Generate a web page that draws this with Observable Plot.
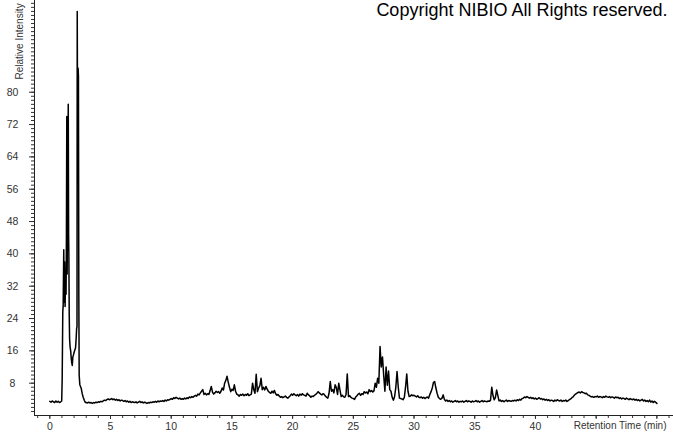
<!DOCTYPE html>
<html>
<head>
<meta charset="utf-8">
<script src="https://cdn.jsdelivr.net/npm/d3@7"></script>
<script src="https://cdn.jsdelivr.net/npm/@observablehq/plot@0.6"></script>
<style>
  html, body { margin: 0; padding: 0; background: #fff; }
  #chart { width: 673px; height: 433px; }
</style>
</head>
<body>
<div id="chart"></div>
<script>
// ---- data ----
const titleText = "Copyright NIBIO All Rights reserved.";
const xAxisTitle = "Retention Time (min)";
const yAxisTitle = "Relative Intensity";

const xTickLabels = [0, 5, 10, 15, 20, 25, 30, 35, 40];
const xMajorTicks = [0, 5, 10, 15, 20, 25, 30, 35, 40, 45, 50];
const yTickLabels = [8, 16, 24, 32, 40, 48, 56, 64, 72, 80];

// early part (irregular sampling around the large solvent peaks), minutes / % intensity
const earlyTime = [0.0, 0.1, 0.2, 0.3, 0.4, 0.5, 0.6, 0.7, 0.8, 0.9, 0.98, 1.02, 1.07, 1.1, 1.15, 1.18, 1.22, 1.26, 1.3, 1.34, 1.37, 1.4, 1.43, 1.46, 1.52, 1.55, 1.57, 1.6, 1.63, 1.67, 1.72, 1.77, 1.81, 1.85, 1.9, 1.95, 2.0, 2.06, 2.12, 2.17, 2.21, 2.24, 2.26, 2.3, 2.33, 2.36, 2.39, 2.42, 2.47, 2.53, 2.59, 2.67, 2.75, 2.85, 2.94];
const earlyIntensity = [3.5, 3.3, 3.6, 3.4, 3.2, 3.6, 3.3, 3.5, 3.2, 3.4, 3.6, 9.0, 25.7, 27.0, 41.0, 28.0, 38.0, 27.0, 35.0, 30.0, 45.0, 74.0, 35.0, 50.0, 77.0, 45.0, 40.0, 25.0, 19.0, 17.0, 16.0, 14.0, 13.0, 12.4, 14.5, 15.0, 15.6, 16.2, 16.7, 19.0, 21.5, 22.0, 100.0, 60.0, 86.0, 84.0, 30.0, 10.0, 7.7, 7.2, 6.7, 5.4, 4.5, 3.7, 3.2];

// main part: sampled every 0.1 min from 3.0 to 50.0 min
const mainStart = 3.0;
const mainStep = 0.1;
const mainIntensity = [
  3.2,3.1,3.3,3.1,3.2,3.0,3.2,3.1,3.3,3.2,   // 3
  3.4,3.3,3.5,3.4,3.6,3.8,3.7,3.9,4.1,3.9,   // 4
  4.0,4.2,3.9,4.1,3.8,4.0,3.7,3.9,3.6,3.8,   // 5
  3.7,3.5,3.7,3.4,3.6,3.3,3.5,3.2,3.4,3.3,   // 6
  3.2,3.4,3.1,3.3,3.5,3.2,3.4,3.1,3.3,3.2,   // 7
  3.0,3.2,3.1,3.3,3.2,3.4,3.3,3.5,3.3,3.6,   // 8
  3.4,3.6,3.5,3.7,3.5,3.8,3.6,3.9,3.8,4.0,   // 9
  4.2,4.0,4.4,4.2,4.5,4.3,4.1,4.3,4.0,4.2,   // 10
  4.0,4.3,4.1,4.4,4.2,4.6,4.4,4.7,4.5,4.8,   // 11
  5.0,4.8,5.3,5.1,5.6,6.0,6.4,5.2,5.5,5.1,   // 12
  5.4,5.2,6.1,7.2,5.8,5.3,5.6,6.0,5.7,5.9,   // 13
  5.5,6.0,6.8,6.3,8.0,8.7,9.7,8.2,7.0,5.9,   // 14
  6.5,6.2,7.6,6.0,5.3,5.1,4.8,5.2,5.0,5.3,   // 15
  4.9,5.2,5.0,5.4,4.9,5.1,5.3,8.0,6.4,5.5,   // 16
  10.2,5.9,6.8,7.4,9.2,6.4,7.0,6.3,7.2,6.5,  // 17
  6.0,5.7,5.5,6.0,5.6,6.2,5.4,5.0,5.2,4.8,   // 18
  4.5,4.7,4.4,4.6,4.8,4.5,4.3,4.6,4.9,5.3,   // 19
  5.0,5.4,5.1,4.9,5.2,4.8,5.3,5.0,5.4,5.1,   // 20
  5.0,4.8,5.5,5.1,4.9,4.5,4.8,4.7,5.0,5.2,   // 21
  5.5,5.9,5.6,5.3,5.1,5.4,5.2,4.8,4.5,4.3,   // 22
  5.5,8.4,6.0,6.4,5.6,7.6,6.9,5.2,8.0,6.3,   // 23
  4.7,5.0,4.6,4.5,5.2,10.3,4.7,4.9,4.5,4.3,  // 24
  4.2,4.0,4.6,4.9,5.3,5.5,5.0,5.4,5.2,5.9,   // 25
  5.6,5.8,5.4,6.4,5.9,6.2,5.8,6.1,8.0,7.0,   // 26
  9.2,8.0,17.1,12.0,14.5,10.0,6.0,12.0,7.5,11.0, // 27
  6.4,6.0,4.5,3.8,4.7,7.0,10.9,7.0,4.3,4.2,  // 28
  4.1,3.9,4.5,7.0,10.3,6.0,4.7,4.8,5.1,4.9,  // 29
  5.0,4.8,4.6,4.9,4.5,4.4,4.6,4.3,4.5,4.2,   // 30
  4.4,4.6,4.3,5.2,5.9,6.8,8.2,8.4,6.8,5.5,   // 31
  4.5,4.2,4.0,4.3,5.1,4.0,3.6,3.8,3.5,3.7,   // 32
  3.4,3.6,3.3,3.5,3.7,3.4,3.6,3.3,3.5,3.4,   // 33
  3.6,3.3,3.5,3.7,3.4,3.6,3.5,3.3,3.6,3.4,   // 34
  3.5,3.7,3.4,3.6,3.3,3.5,3.7,3.4,3.6,3.5,   // 35
  3.4,3.6,3.5,3.8,7.0,5.0,3.9,4.4,6.3,5.0,   // 36
  3.6,3.8,3.5,3.7,3.4,3.6,3.8,3.5,3.7,3.6,   // 37
  3.5,3.7,3.6,3.8,3.6,3.9,3.7,4.0,3.8,4.2,   // 38
  4.3,4.6,4.4,4.7,4.5,4.3,4.5,4.2,4.4,4.1,   // 39
  4.3,4.0,4.2,4.4,4.1,4.2,3.9,4.1,3.8,4.0,   // 40
  3.7,3.9,3.6,3.8,3.7,3.5,3.8,3.6,3.9,3.7,   // 41
  3.6,3.8,3.5,3.7,3.6,3.8,3.5,3.7,3.9,4.1,   // 42
  4.4,4.6,5.0,5.3,5.5,5.7,5.8,5.6,5.9,5.7,   // 43
  5.6,5.4,5.5,5.1,5.0,4.8,4.6,4.7,4.5,4.7,   // 44
  4.6,4.8,4.5,4.7,4.6,4.4,4.7,4.5,4.8,4.6,   // 45
  4.5,4.7,4.4,4.6,4.5,4.3,4.6,4.4,4.5,4.2,   // 46
  4.4,4.1,4.3,4.2,4.0,4.3,4.1,3.9,4.2,4.0,   // 47
  3.9,4.1,3.8,4.0,3.7,3.9,3.6,3.8,4.0,3.6,   // 48
  3.8,3.5,3.7,3.4,3.8,3.3,3.6,3.2,3.5,3.3,   // 49
  3.0                                         // 50
];

// ---- build table ----
const trace = [];
earlyTime.forEach((t, i) => trace.push({t, v: earlyIntensity[i]}));
mainIntensity.forEach((v, i) => trace.push({t: +(mainStart + i * mainStep).toFixed(2), v}));

const xDomain = [-1.26, 51.37];
const yDomain = [0, 102.7];

const chart = Plot.plot({
  width: 673,
  height: 433,
  marginLeft: 34,
  marginRight: 0,
  marginTop: 0,
  marginBottom: 18,
  x: {domain: xDomain, label: null},
  y: {domain: yDomain, label: null},
  style: {fontFamily: "'Liberation Sans', Arial, sans-serif", fontSize: "10px", color: "#333", background: "#fff"},
  marks: [
    // minor ticks
    Plot.axisY({ticks: d3.range(1, 103), tickSize: 3, tickFormat: () => "", label: null}),
    Plot.axisX({ticks: d3.range(-1, 52), tickSize: 3, tickFormat: () => "", label: null}),
    // major ticks + labels
    Plot.axisY({ticks: yTickLabels, tickSize: 5, tickPadding: 17, textAnchor: "middle", label: null, fill: "#333", fontSize: 10.5}),
    Plot.axisX({ticks: xMajorTicks, tickSize: 4, tickPadding: 3, tickFormat: d => xTickLabels.includes(d) ? String(d) : "", label: null, fill: "#333", fontSize: 10.5}),
    // axis lines
    Plot.ruleX([xDomain[0]], {stroke: "#222"}),
    Plot.ruleY([0], {stroke: "#222"}),
    // chromatogram
    Plot.line(trace, {x: "t", y: "v", stroke: "#000", strokeWidth: 1.5, curve: "linear"}),
    // texts
    Plot.text([titleText], {frameAnchor: "top-right", dx: -6, dy: 3, lineAnchor: "top", fontSize: 18, fill: "#000"}),
    Plot.text([xAxisTitle], {frameAnchor: "bottom-right", dx: -7, dy: 10, lineAnchor: "middle", textAnchor: "end", fontSize: 10, fill: "#333"}),
    Plot.text([yAxisTitle], {frameAnchor: "top-left", rotate: -90, textAnchor: "start", lineAnchor: "bottom", dx: -11.5, dy: 79, fontSize: 10, fill: "#333"})
  ]
});
document.getElementById("chart").appendChild(chart);
</script>
</body>
</html>
